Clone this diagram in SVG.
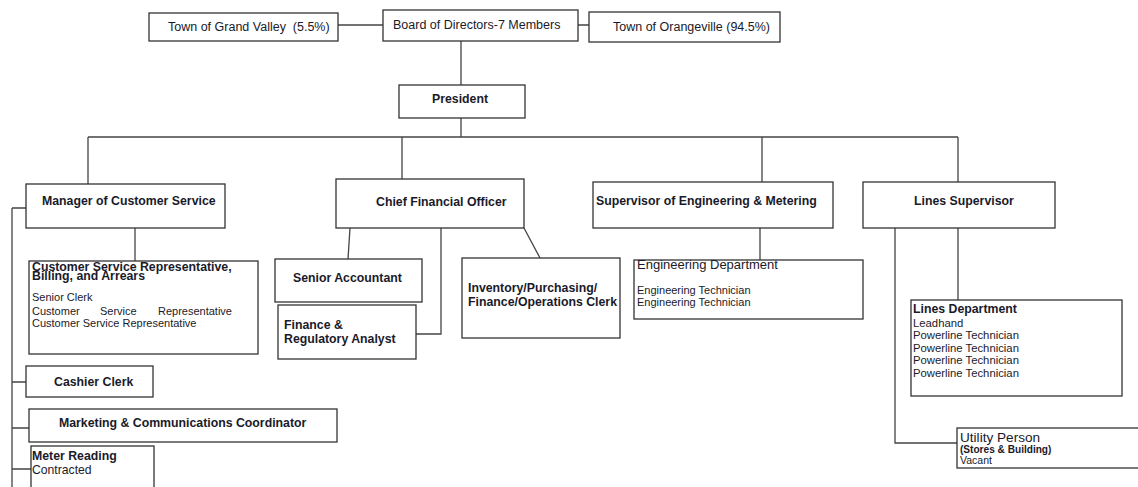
<svg xmlns="http://www.w3.org/2000/svg" width="1138" height="487" viewBox="0 0 1138 487">
<style>
.box{fill:#fff;stroke:#333;stroke-width:1.3}
.ln{fill:none;stroke:#444;stroke-width:1.3}
text{font-family:"Liberation Sans",Arial,sans-serif;fill:#1a1a2a;white-space:pre}
.top{font-size:12.5px}
.t{font-size:12.2px}
.b{font-size:12.3px;font-weight:bold}
.s{font-size:11px}
.sl{font-size:11.3px}
.sb{font-size:10.1px;font-weight:bold}
</style>
<rect width="1138" height="487" fill="#fff"/>
<g id="connectors">
<path class="ln" d="M338 25H383M578 25H589"/>
<path class="ln" d="M461 41V85M461 118V137M88 137H958M88 137V184M402 137V179M762 137V182M958 137V182"/>
<path class="ln" d="M135 228V261"/>
<path class="ln" d="M12 208H26M12 208V487M12 382H26M12 428H29M12 469H31"/>
<path class="ln" d="M350 228L348 259M441 228V334H416M524 228L540 258"/>
<path class="ln" d="M760 228V260"/>
<path class="ln" d="M958 228V300M895 228V443H957"/>
</g>
<g id="grand-valley"><rect class="box" x="149" y="13" width="189" height="28"/><text class="top" x="168" y="31">Town of Grand Valley  (5.5%)</text></g>
<g id="board"><rect class="box" x="383" y="10" width="195" height="31"/><text class="top" x="393" y="29">Board of Directors-7 Members</text></g>
<g id="orangeville"><rect class="box" x="589" y="12" width="191" height="30"/><text class="top" x="613" y="31">Town of Orangeville (94.5%)</text></g>
<g id="president"><rect class="box" x="399" y="85" width="126" height="33"/><text class="b" x="432" y="103">President</text></g>
<g id="manager-cs"><rect class="box" x="26" y="184" width="199" height="44"/><text class="b" x="42" y="205">Manager of Customer Service</text></g>
<g id="cfo"><rect class="box" x="336" y="179" width="188" height="49"/><text class="b" x="376" y="206">Chief Financial Officer</text></g>
<g id="sup-eng"><rect class="box" x="593" y="182" width="240" height="46"/><text class="b" x="596" y="205">Supervisor of Engineering &amp; Metering</text></g>
<g id="lines-sup"><rect class="box" x="863" y="182" width="192" height="46"/><text class="b" x="914" y="205">Lines Supervisor</text></g>
<g id="csr"><rect class="box" x="29" y="261" width="229" height="93"/>
<text class="b" x="32" y="271">Customer Service Representative,</text>
<text class="b" x="32" y="280">Billing, and Arrears</text>
<text class="s" x="32" y="301">Senior Clerk</text>
<text class="s" x="32" y="315">Customer</text><text class="s" x="100" y="315">Service</text><text class="s" x="232" y="315" text-anchor="end">Representative</text>
<text class="s" x="32" y="327">Customer Service Representative</text></g>
<g id="cashier"><rect class="box" x="26" y="366" width="127" height="31"/><text class="b" x="54" y="386">Cashier Clerk</text></g>
<g id="marketing"><rect class="box" x="29" y="409" width="308" height="33"/><text class="b" x="59" y="427">Marketing &amp; Communications Coordinator</text></g>
<g id="meter"><rect class="box" x="31" y="446" width="123" height="45"/><text class="b" x="32" y="460">Meter Reading</text><text class="t" x="32" y="474">Contracted</text></g>
<g id="senior-acct"><rect class="box" x="275" y="259" width="147" height="43"/><text class="b" x="293" y="282">Senior Accountant</text></g>
<g id="finance"><rect class="box" x="278" y="305" width="138" height="54"/><text class="b" x="284" y="329">Finance &amp;</text><text class="b" x="284" y="343">Regulatory Analyst</text></g>
<g id="inventory"><rect class="box" x="462" y="258" width="158" height="80"/><text class="b" x="468" y="292">Inventory/Purchasing/</text><text class="b" x="468" y="306">Finance/Operations Clerk</text></g>
<g id="eng-dept"><rect class="box" x="634" y="260" width="229" height="59"/><text style="font-size:13px" x="637" y="269">Engineering Department</text><text class="s" x="637" y="294">Engineering Technician</text><text class="s" x="637" y="306">Engineering Technician</text></g>
<g id="lines-dept"><rect class="box" x="911" y="300" width="211" height="96"/>
<text class="b" x="913" y="313">Lines Department</text>
<text class="sl" x="913" y="327">Leadhand</text>
<text class="sl" x="913" y="339">Powerline Technician</text>
<text class="sl" x="913" y="352">Powerline Technician</text>
<text class="sl" x="913" y="364">Powerline Technician</text>
<text class="sl" x="913" y="377">Powerline Technician</text></g>
<g id="utility"><rect class="box" x="957" y="428" width="190" height="40"/><text style="font-size:13.6px" x="960" y="442">Utility Person</text><text class="sb" x="960" y="453">(Stores &amp; Building)</text><text style="font-size:10.5px" x="960" y="464">Vacant</text></g>
</svg>
